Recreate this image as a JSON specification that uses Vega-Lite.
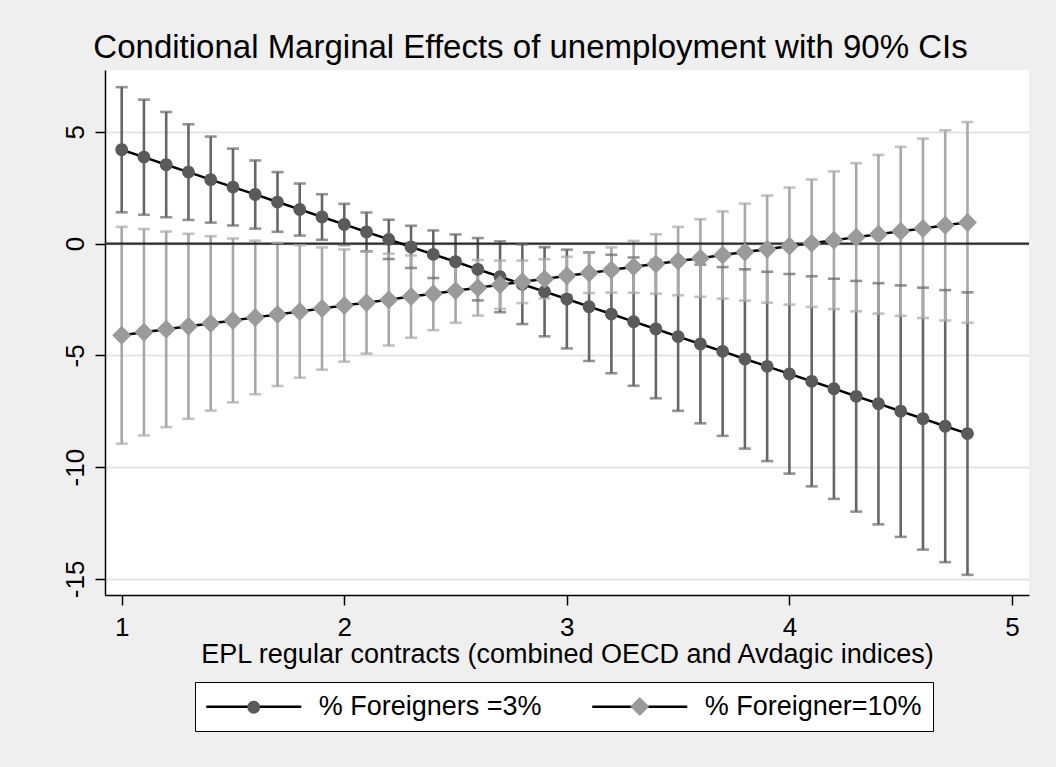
{
  "$schema": "https://vega.github.io/schema/vega-lite/v6.json",
  "width": 924,
  "height": 525,
  "autosize": {"type": "none"},
  "padding": {"left": 105, "top": 70, "right": 27, "bottom": 172},
  "background": "#efefef",
  "config": {
    "view": {"fill": "white", "stroke": null},
    "font": "Liberation Sans"
  },
  "title": {
    "text": "Conditional Marginal Effects of unemployment with 90% CIs",
    "font": "Liberation Sans",
    "fontSize": 33,
    "fontWeight": "normal",
    "color": "black",
    "anchor": "middle",
    "frame": "group",
    "dx": -36.5,
    "dy": 32,
    "baseline": "alphabetic",
    "offset": 11
  },
  "data": {
    "values": [
      {"series": "% Foreigners =3%", "grp": "% Foreigners =3%", "x": 1.0, "y": 4.20, "lo": 1.40, "hi": 7.00},
      {"series": "% Foreigners =3%", "grp": "% Foreigners =3%", "x": 1.1, "y": 3.87, "lo": 1.29, "hi": 6.44},
      {"series": "% Foreigners =3%", "grp": "% Foreigners =3%", "x": 1.2, "y": 3.53, "lo": 1.18, "hi": 5.89},
      {"series": "% Foreigners =3%", "grp": "% Foreigners =3%", "x": 1.3, "y": 3.20, "lo": 1.06, "hi": 5.34},
      {"series": "% Foreigners =3%", "grp": "% Foreigners =3%", "x": 1.4, "y": 2.86, "lo": 0.94, "hi": 4.79},
      {"series": "% Foreigners =3%", "grp": "% Foreigners =3%", "x": 1.5, "y": 2.53, "lo": 0.81, "hi": 4.25},
      {"series": "% Foreigners =3%", "grp": "% Foreigners =3%", "x": 1.6, "y": 2.20, "lo": 0.67, "hi": 3.72},
      {"series": "% Foreigners =3%", "grp": "% Foreigners =3%", "x": 1.7, "y": 1.86, "lo": 0.53, "hi": 3.20},
      {"series": "% Foreigners =3%", "grp": "% Foreigners =3%", "x": 1.8, "y": 1.53, "lo": 0.36, "hi": 2.69},
      {"series": "% Foreigners =3%", "grp": "% Foreigners =3%", "x": 1.9, "y": 1.19, "lo": 0.17, "hi": 2.21},
      {"series": "% Foreigners =3%", "grp": "% Foreigners =3%", "x": 2.0, "y": 0.86, "lo": -0.06, "hi": 1.78},
      {"series": "% Foreigners =3%", "grp": "% Foreigners =3%", "x": 2.1, "y": 0.52, "lo": -0.34, "hi": 1.39},
      {"series": "% Foreigners =3%", "grp": "% Foreigners =3%", "x": 2.2, "y": 0.19, "lo": -0.69, "hi": 1.07},
      {"series": "% Foreigners =3%", "grp": "% Foreigners =3%", "x": 2.3, "y": -0.15, "lo": -1.09, "hi": 0.80},
      {"series": "% Foreigners =3%", "grp": "% Foreigners =3%", "x": 2.4, "y": -0.48, "lo": -1.54, "hi": 0.59},
      {"series": "% Foreigners =3%", "grp": "% Foreigners =3%", "x": 2.5, "y": -0.81, "lo": -2.03, "hi": 0.41},
      {"series": "% Foreigners =3%", "grp": "% Foreigners =3%", "x": 2.6, "y": -1.15, "lo": -2.54, "hi": 0.25},
      {"series": "% Foreigners =3%", "grp": "% Foreigners =3%", "x": 2.7, "y": -1.48, "lo": -3.07, "hi": 0.10},
      {"series": "% Foreigners =3%", "grp": "% Foreigners =3%", "x": 2.8, "y": -1.82, "lo": -3.60, "hi": -0.03},
      {"series": "% Foreigners =3%", "grp": "% Foreigners =3%", "x": 2.9, "y": -2.15, "lo": -4.15, "hi": -0.16},
      {"series": "% Foreigners =3%", "grp": "% Foreigners =3%", "x": 3.0, "y": -2.48, "lo": -4.69, "hi": -0.27},
      {"series": "% Foreigners =3%", "grp": "% Foreigners =3%", "x": 3.1, "y": -2.82, "lo": -5.25, "hi": -0.39},
      {"series": "% Foreigners =3%", "grp": "% Foreigners =3%", "x": 3.2, "y": -3.15, "lo": -5.80, "hi": -0.50},
      {"series": "% Foreigners =3%", "grp": "% Foreigners =3%", "x": 3.3, "y": -3.49, "lo": -6.36, "hi": -0.62},
      {"series": "% Foreigners =3%", "grp": "% Foreigners =3%", "x": 3.4, "y": -3.82, "lo": -6.92, "hi": -0.73},
      {"series": "% Foreigners =3%", "grp": "% Foreigners =3%", "x": 3.5, "y": -4.16, "lo": -7.48, "hi": -0.83},
      {"series": "% Foreigners =3%", "grp": "% Foreigners =3%", "x": 3.6, "y": -4.49, "lo": -8.04, "hi": -0.94},
      {"series": "% Foreigners =3%", "grp": "% Foreigners =3%", "x": 3.7, "y": -4.82, "lo": -8.60, "hi": -1.05},
      {"series": "% Foreigners =3%", "grp": "% Foreigners =3%", "x": 3.8, "y": -5.16, "lo": -9.17, "hi": -1.15},
      {"series": "% Foreigners =3%", "grp": "% Foreigners =3%", "x": 3.9, "y": -5.49, "lo": -9.73, "hi": -1.26},
      {"series": "% Foreigners =3%", "grp": "% Foreigners =3%", "x": 4.0, "y": -5.83, "lo": -10.29, "hi": -1.36},
      {"series": "% Foreigners =3%", "grp": "% Foreigners =3%", "x": 4.1, "y": -6.16, "lo": -10.86, "hi": -1.46},
      {"series": "% Foreigners =3%", "grp": "% Foreigners =3%", "x": 4.2, "y": -6.49, "lo": -11.42, "hi": -1.57},
      {"series": "% Foreigners =3%", "grp": "% Foreigners =3%", "x": 4.3, "y": -6.83, "lo": -11.99, "hi": -1.67},
      {"series": "% Foreigners =3%", "grp": "% Foreigners =3%", "x": 4.4, "y": -7.16, "lo": -12.56, "hi": -1.77},
      {"series": "% Foreigners =3%", "grp": "% Foreigners =3%", "x": 4.5, "y": -7.50, "lo": -13.12, "hi": -1.87},
      {"series": "% Foreigners =3%", "grp": "% Foreigners =3%", "x": 4.6, "y": -7.83, "lo": -13.69, "hi": -1.97},
      {"series": "% Foreigners =3%", "grp": "% Foreigners =3%", "x": 4.7, "y": -8.17, "lo": -14.25, "hi": -2.08},
      {"series": "% Foreigners =3%", "grp": "% Foreigners =3%", "x": 4.8, "y": -8.50, "lo": -14.82, "hi": -2.18},
      {"series": "% Foreigner=10%", "grp": "% Foreigner=10%", "x": 1.0, "y": -4.10, "lo": -8.95, "hi": 0.75},
      {"series": "% Foreigner=10%", "grp": "% Foreigner=10%", "x": 1.1, "y": -3.97, "lo": -8.58, "hi": 0.65},
      {"series": "% Foreigner=10%", "grp": "% Foreigner=10%", "x": 1.2, "y": -3.83, "lo": -8.21, "hi": 0.54},
      {"series": "% Foreigner=10%", "grp": "% Foreigner=10%", "x": 1.3, "y": -3.70, "lo": -7.84, "hi": 0.44},
      {"series": "% Foreigner=10%", "grp": "% Foreigner=10%", "x": 1.4, "y": -3.57, "lo": -7.47, "hi": 0.33},
      {"series": "% Foreigner=10%", "grp": "% Foreigner=10%", "x": 1.5, "y": -3.44, "lo": -7.10, "hi": 0.23},
      {"series": "% Foreigner=10%", "grp": "% Foreigner=10%", "x": 1.6, "y": -3.30, "lo": -6.74, "hi": 0.13},
      {"series": "% Foreigner=10%", "grp": "% Foreigner=10%", "x": 1.7, "y": -3.17, "lo": -6.37, "hi": 0.03},
      {"series": "% Foreigner=10%", "grp": "% Foreigner=10%", "x": 1.8, "y": -3.04, "lo": -6.00, "hi": -0.07},
      {"series": "% Foreigner=10%", "grp": "% Foreigner=10%", "x": 1.9, "y": -2.90, "lo": -5.64, "hi": -0.17},
      {"series": "% Foreigner=10%", "grp": "% Foreigner=10%", "x": 2.0, "y": -2.77, "lo": -5.28, "hi": -0.26},
      {"series": "% Foreigner=10%", "grp": "% Foreigner=10%", "x": 2.1, "y": -2.64, "lo": -4.92, "hi": -0.36},
      {"series": "% Foreigner=10%", "grp": "% Foreigner=10%", "x": 2.2, "y": -2.51, "lo": -4.56, "hi": -0.45},
      {"series": "% Foreigner=10%", "grp": "% Foreigner=10%", "x": 2.3, "y": -2.37, "lo": -4.21, "hi": -0.53},
      {"series": "% Foreigner=10%", "grp": "% Foreigner=10%", "x": 2.4, "y": -2.24, "lo": -3.87, "hi": -0.61},
      {"series": "% Foreigner=10%", "grp": "% Foreigner=10%", "x": 2.5, "y": -2.11, "lo": -3.54, "hi": -0.68},
      {"series": "% Foreigner=10%", "grp": "% Foreigner=10%", "x": 2.6, "y": -1.97, "lo": -3.22, "hi": -0.73},
      {"series": "% Foreigner=10%", "grp": "% Foreigner=10%", "x": 2.7, "y": -1.84, "lo": -2.92, "hi": -0.76},
      {"series": "% Foreigner=10%", "grp": "% Foreigner=10%", "x": 2.8, "y": -1.71, "lo": -2.66, "hi": -0.76},
      {"series": "% Foreigner=10%", "grp": "% Foreigner=10%", "x": 2.9, "y": -1.58, "lo": -2.45, "hi": -0.70},
      {"series": "% Foreigner=10%", "grp": "% Foreigner=10%", "x": 3.0, "y": -1.44, "lo": -2.30, "hi": -0.59},
      {"series": "% Foreigner=10%", "grp": "% Foreigner=10%", "x": 3.1, "y": -1.31, "lo": -2.21, "hi": -0.41},
      {"series": "% Foreigner=10%", "grp": "% Foreigner=10%", "x": 3.2, "y": -1.18, "lo": -2.19, "hi": -0.17},
      {"series": "% Foreigner=10%", "grp": "% Foreigner=10%", "x": 3.3, "y": -1.04, "lo": -2.20, "hi": 0.12},
      {"series": "% Foreigner=10%", "grp": "% Foreigner=10%", "x": 3.4, "y": -0.91, "lo": -2.24, "hi": 0.42},
      {"series": "% Foreigner=10%", "grp": "% Foreigner=10%", "x": 3.5, "y": -0.78, "lo": -2.31, "hi": 0.75},
      {"series": "% Foreigner=10%", "grp": "% Foreigner=10%", "x": 3.6, "y": -0.65, "lo": -2.38, "hi": 1.09},
      {"series": "% Foreigner=10%", "grp": "% Foreigner=10%", "x": 3.7, "y": -0.51, "lo": -2.46, "hi": 1.44},
      {"series": "% Foreigner=10%", "grp": "% Foreigner=10%", "x": 3.8, "y": -0.38, "lo": -2.55, "hi": 1.79},
      {"series": "% Foreigner=10%", "grp": "% Foreigner=10%", "x": 3.9, "y": -0.25, "lo": -2.64, "hi": 2.15},
      {"series": "% Foreigner=10%", "grp": "% Foreigner=10%", "x": 4.0, "y": -0.11, "lo": -2.73, "hi": 2.51},
      {"series": "% Foreigner=10%", "grp": "% Foreigner=10%", "x": 4.1, "y": 0.02, "lo": -2.83, "hi": 2.87},
      {"series": "% Foreigner=10%", "grp": "% Foreigner=10%", "x": 4.2, "y": 0.15, "lo": -2.93, "hi": 3.23},
      {"series": "% Foreigner=10%", "grp": "% Foreigner=10%", "x": 4.3, "y": 0.29, "lo": -3.03, "hi": 3.60},
      {"series": "% Foreigner=10%", "grp": "% Foreigner=10%", "x": 4.4, "y": 0.42, "lo": -3.13, "hi": 3.97},
      {"series": "% Foreigner=10%", "grp": "% Foreigner=10%", "x": 4.5, "y": 0.55, "lo": -3.23, "hi": 4.33},
      {"series": "% Foreigner=10%", "grp": "% Foreigner=10%", "x": 4.6, "y": 0.68, "lo": -3.33, "hi": 4.70},
      {"series": "% Foreigner=10%", "grp": "% Foreigner=10%", "x": 4.7, "y": 0.82, "lo": -3.44, "hi": 5.07},
      {"series": "% Foreigner=10%", "grp": "% Foreigner=10%", "x": 4.8, "y": 0.95, "lo": -3.54, "hi": 5.44}
    ]
  },
  "layer": [
    {
      "mark": {"type": "rule", "strokeWidth": 2.6},
      "encoding": {
        "x": {
          "field": "x", "type": "quantitative",
          "scale": {"domain": [0.925, 5.0764], "nice": false, "zero": false},
          "axis": {
            "title": "EPL regular contracts (combined OECD and Avdagic indices)",
            "titleFont": "Liberation Sans", "titleFontSize": 27, "titleFontWeight": "normal",
            "titleColor": "black", "titlePadding": 1.5,
            "values": [1, 2, 3, 4, 5], "format": "d",
            "labelFont": "Liberation Sans", "labelFontSize": 26, "labelColor": "black",
            "labelPadding": 9, "labelFlush": false, "labelOverlap": false,
            "tickSize": 10, "tickColor": "black", "tickWidth": 1.5,
            "domainColor": "black", "domainWidth": 1.5, "grid": false
          }
        },
        "y": {
          "field": "lo", "type": "quantitative", "title": null,
          "scale": {"domain": [-15.72, 7.767], "nice": false, "zero": false},
          "axis": {
            "title": null,
            "values": [-15, -10, -5, 0, 5],
            "labelExpr": "'' + datum.value",
            "labelAngle": -90, "labelAlign": "center", "labelBaseline": "alphabetic",
            "labelPadding": 12, "labelFont": "Liberation Sans", "labelFontSize": 26,
            "labelColor": "black", "labelFlush": false, "labelOverlap": false,
            "tickSize": 10, "tickColor": "black", "tickWidth": 1.5,
            "domainColor": "black", "domainWidth": 1.5,
            "grid": true, "gridColor": "#e4e4e4", "gridWidth": 2
          }
        },
        "y2": {"field": "hi"},
        "color": {
          "field": "series", "type": "nominal", "sort": "descending",
          "scale": {"range": ["#666666", "#a8a8a8"]}, "legend": null
        }
      }
    },
    {
      "data": {"values": [{}]},
      "mark": {"type": "rule", "color": "#2a2a2a", "strokeWidth": 2.2},
      "encoding": {"y": {"datum": 0, "type": "quantitative", "title": null}}
    },
    {
      "mark": {"type": "tick", "orient": "horizontal", "size": 12, "thickness": 2.6},
      "encoding": {
        "x": {"field": "x", "type": "quantitative", "title": "EPL regular contracts (combined OECD and Avdagic indices)"},
        "y": {"field": "lo", "type": "quantitative", "title": null},
        "color": {"field": "series", "type": "nominal", "sort": "descending", "legend": null}
      }
    },
    {
      "mark": {"type": "tick", "orient": "horizontal", "size": 12, "thickness": 2.6},
      "encoding": {
        "x": {"field": "x", "type": "quantitative", "title": "EPL regular contracts (combined OECD and Avdagic indices)"},
        "y": {"field": "hi", "type": "quantitative", "title": null},
        "color": {"field": "series", "type": "nominal", "sort": "descending", "legend": null}
      }
    },
    {
      "mark": {"type": "line", "strokeWidth": 2.5},
      "encoding": {
        "x": {"field": "x", "type": "quantitative", "title": "EPL regular contracts (combined OECD and Avdagic indices)"},
        "y": {"field": "y", "type": "quantitative", "title": null},
        "stroke": {
          "field": "series", "type": "nominal", "sort": "descending",
          "scale": {"range": ["black", "black"]},
          "legend": {
            "orient": "none", "legendX": 90, "legendY": 612, "direction": "horizontal",
            "title": null,
            "symbolType": "M-4.75,0L4.75,0", "symbolSize": 400,
            "symbolStrokeWidth": 2.5, "symbolStrokeColor": "black",
            "symbolOffset": 34.25, "labelOffset": 51.5,
            "labelFont": "Liberation Sans", "labelFontSize": 27, "labelColor": "black",
            "labelLimit": 500, "columnPadding": 45, "padding": 11,
            "strokeColor": "black", "fillColor": "white"
          }
        }
      }
    },
    {
      "mark": {"type": "point", "filled": true, "size": 400, "opacity": 1, "stroke": "transparent", "strokeWidth": 2.5},
      "encoding": {
        "x": {"field": "x", "type": "quantitative", "title": "EPL regular contracts (combined OECD and Avdagic indices)"},
        "y": {"field": "y", "type": "quantitative", "title": null},
        "fill": {
          "field": "grp", "type": "nominal", "sort": "descending",
          "scale": {"range": ["#5a5a5a", "#9a9a9a"]},
          "legend": {
            "orient": "none", "legendX": 90, "legendY": 612, "direction": "horizontal",
            "title": null, "symbolSize": 400,
            "symbolStrokeWidth": 2.5, "symbolStrokeColor": "transparent",
            "symbolOffset": 34.25, "labelOffset": 51.5,
            "labelFont": "Liberation Sans", "labelFontSize": 27, "labelOpacity": 0,
            "labelLimit": 500, "columnPadding": 45, "padding": 11
          }
        },
        "shape": {
          "field": "grp", "type": "nominal", "sort": "descending",
          "scale": {"range": [
            "M-4.75,0L4.75,0M-0.64,0A0.64,0.64,0,1,1,0.64,0A0.64,0.64,0,1,1,-0.64,0Z",
            "M-4.75,0L4.75,0M-0.95,0L0,-0.95L0.95,0L0,0.95Z"
          ]},
          "legend": {
            "orient": "none", "legendX": 90, "legendY": 612, "direction": "horizontal",
            "title": null, "symbolSize": 400,
            "symbolStrokeWidth": 2.5, "symbolStrokeColor": "transparent",
            "symbolOffset": 34.25, "labelOffset": 51.5,
            "labelFont": "Liberation Sans", "labelFontSize": 27, "labelOpacity": 0,
            "labelLimit": 500, "columnPadding": 45, "padding": 11
          }
        }
      }
    }
  ]
}
